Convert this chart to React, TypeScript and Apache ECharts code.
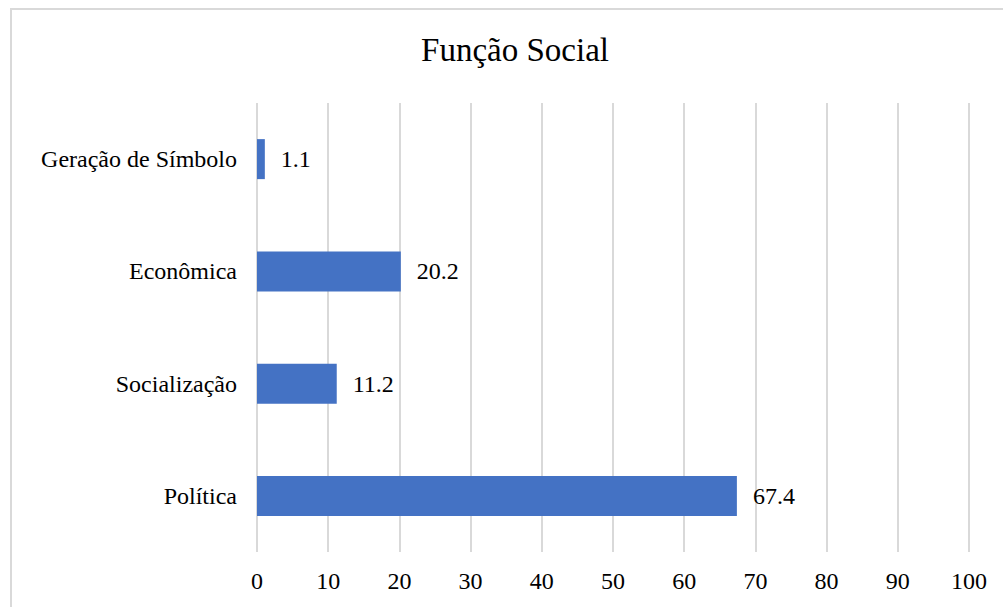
import React, { useEffect, useRef } from "react";
import * as echarts from "echarts";

const title = "Função Social";
const categories = ["Política", "Socialização", "Econômica", "Geração de Símbolo"];
const values = [67.4, 11.2, 20.2, 1.1];

const FONT = "'Liberation Serif', 'Times New Roman', serif";

export default function App() {
  const ref = useRef<HTMLDivElement>(null);
  useEffect(() => {
    const chart = echarts.init(ref.current!, null, { renderer: "svg" });
    chart.setOption({
      animation: false,
      backgroundColor: "#ffffff",
      title: {
        text: title,
        left: 510,
        textAlign: "center",
        top: 28,
        textStyle: { fontFamily: FONT, fontSize: 33, fontWeight: "normal", color: "#000" },
      },
      graphic: [
        {
          type: "rect",
          shape: { x: 11, y: 9, width: 1010, height: 620 },
          style: { fill: "none", stroke: "#d9d9d9", lineWidth: 2 },
          silent: true,
        },
      ],
      grid: { left: 257, right: 34, top: 103, bottom: 55 },
      xAxis: {
        type: "value",
        min: 0,
        max: 100,
        interval: 10,
        axisLine: { show: false },
        axisTick: { show: false },
        axisLabel: { fontFamily: FONT, fontSize: 24, color: "#000", margin: 17 },
        splitLine: { show: true, lineStyle: { color: "#d9d9d9", width: 2 } },
      },
      yAxis: {
        type: "category",
        data: categories,
        axisLine: { show: false },
        axisTick: { show: false },
        axisLabel: { fontFamily: FONT, fontSize: 24, color: "#000", margin: 20 },
      },
      series: [
        {
          type: "bar",
          data: values,
          barWidth: 40,
          itemStyle: { color: "#4472C4" },
          label: {
            show: true,
            position: "right",
            distance: 16,
            fontFamily: FONT,
            fontSize: 24,
            color: "#000",
          },
        },
      ],
    });
    return () => chart.dispose();
  }, []);
  return <div ref={ref} style={{ position: "absolute", left: 0, top: 0, width: 1003, height: 607 }} />;
}
